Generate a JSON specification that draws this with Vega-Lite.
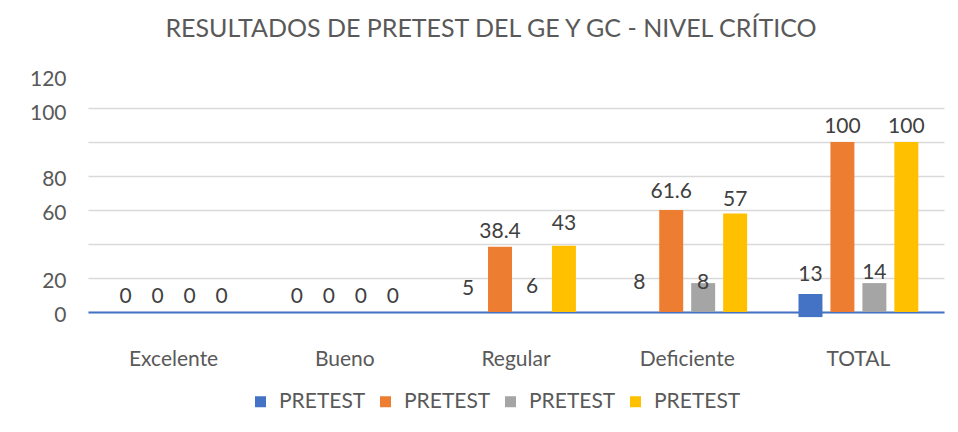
{
  "$schema": "https://vega.github.io/schema/vega-lite/v6.json",
  "width": 856,
  "height": 204,
  "autosize": {"type": "none"},
  "padding": {"left": 88, "top": 108, "right": 14, "bottom": 120},
  "background": "white",
  "title": {
    "text": "RESULTADOS DE PRETEST DEL GE Y GC - NIVEL CRÍTICO",
    "font": "Lato",
    "fontSize": 25,
    "fontWeight": "normal",
    "color": "#595959",
    "anchor": "middle",
    "frame": "group",
    "dx": -25,
    "offset": 26
  },
  "config": {
    "view": {"stroke": null},
    "font": "Lato",
    "text": {"font": "Lato"},
    "axisY": {
      "title": null,
      "values": [0, 20, 40, 60, 80, 100, 120],
      "labelExpr": "datum.value == 40 ? '' : datum.label",
      "labelOverlap": false,
      "labelFont": "Lato",
      "labelFontSize": 21,
      "labelColor": "#595959",
      "labelPadding": 22,
      "ticks": false,
      "tickSize": 0,
      "domain": false,
      "grid": true,
      "gridColor": "#d9d9d9",
      "gridWidth": 1.5
    }
  },
  "data": {
    "values": [
      {"categoria": "Excelente", "serie": "s1", "barra": 0, "base": 0, "etiqueta": 0},
      {"categoria": "Excelente", "serie": "s2", "barra": 0, "base": 0, "etiqueta": 0},
      {"categoria": "Excelente", "serie": "s3", "barra": 0, "base": 0, "etiqueta": 0},
      {"categoria": "Excelente", "serie": "s4", "barra": 0, "base": 0, "etiqueta": 0},
      {"categoria": "Bueno", "serie": "s1", "barra": 0, "base": 0, "etiqueta": 0},
      {"categoria": "Bueno", "serie": "s2", "barra": 0, "base": 0, "etiqueta": 0},
      {"categoria": "Bueno", "serie": "s3", "barra": 0, "base": 0, "etiqueta": 0},
      {"categoria": "Bueno", "serie": "s4", "barra": 0, "base": 0, "etiqueta": 0},
      {"categoria": "Regular", "serie": "s1", "barra": 0, "base": 0, "etiqueta": 5},
      {"categoria": "Regular", "serie": "s2", "barra": 38.4, "base": 0, "etiqueta": 38.4},
      {"categoria": "Regular", "serie": "s3", "barra": 0, "base": 0, "etiqueta": 6},
      {"categoria": "Regular", "serie": "s4", "barra": 39, "base": 0, "etiqueta": 43},
      {"categoria": "Deficiente", "serie": "s1", "barra": 0, "base": 0, "etiqueta": 8},
      {"categoria": "Deficiente", "serie": "s2", "barra": 60, "base": 0, "etiqueta": 61.6},
      {"categoria": "Deficiente", "serie": "s3", "barra": 17, "base": 0, "etiqueta": 8},
      {"categoria": "Deficiente", "serie": "s4", "barra": 58, "base": 0, "etiqueta": 57},
      {"categoria": "TOTAL", "serie": "s1", "barra": 10.6, "base": -3, "etiqueta": 13},
      {"categoria": "TOTAL", "serie": "s2", "barra": 100, "base": 0, "etiqueta": 100},
      {"categoria": "TOTAL", "serie": "s3", "barra": 17, "base": 0, "etiqueta": 14},
      {"categoria": "TOTAL", "serie": "s4", "barra": 100, "base": 0, "etiqueta": 100}
    ]
  },
  "encoding": {
    "x": {
      "field": "categoria",
      "type": "nominal",
      "sort": ["Excelente", "Bueno", "Regular", "Deficiente", "TOTAL"],
      "scale": {"paddingInner": 0.3, "paddingOuter": 0.15},
      "axis": {
        "title": null,
        "labelAngle": 0,
        "labelFont": "Lato",
        "labelFontSize": 21,
        "labelColor": "#595959",
        "labelPadding": 36,
        "ticks": false,
        "tickSize": 0,
        "domainColor": "#4472C4",
        "domainWidth": 2,
        "grid": false
      }
    },
    "xOffset": {
      "field": "serie",
      "type": "nominal",
      "scale": {"paddingInner": 0.25, "paddingOuter": 0}
    }
  },
  "layer": [
    {
      "mark": {"type": "bar"},
      "encoding": {
        "y": {
          "field": "barra",
          "type": "quantitative",
          "scale": {"domain": [0, 120], "nice": false},
          "axis": {
            "values": [0, 20, 40, 60, 80, 100, 120],
            "labelOffset": {"condition": {"test": "datum.value >= 100", "value": -29}, "value": 3}
          }
        },
        "y2": {"field": "base"},
        "color": {
          "field": "serie",
          "type": "nominal",
          "scale": {"domain": ["s1", "s2", "s3", "s4"], "range": ["#4472C4", "#ED7D31", "#A5A5A5", "#FFC000"]},
          "legend": {
            "title": null,
            "orient": "none",
            "legendX": 162,
            "legendY": 283,
            "direction": "horizontal",
            "columns": 4,
            "labelExpr": "'PRETEST'",
            "labelFont": "Lato",
            "labelFontSize": 21,
            "labelColor": "#595959",
            "labelOffset": 8,
            "symbolType": "square",
            "symbolSize": 121,
            "symbolStrokeWidth": 0,
            "columnPadding": 9,
            "padding": 0,
            "offset": 0
          }
        }
      }
    },
    {
      "mark": {"type": "text", "baseline": "middle", "dy": -15, "font": "Lato", "fontSize": 21, "color": "#404040"},
      "encoding": {
        "y": {
          "field": "etiqueta",
          "type": "quantitative",
          "axis": {
            "values": [0, 20, 40, 60, 80, 100, 120],
            "labelOffset": {"condition": {"test": "datum.value >= 100", "value": -29}, "value": 3}
          }
        },
        "text": {"field": "etiqueta", "type": "quantitative"}
      }
    }
  ]
}
